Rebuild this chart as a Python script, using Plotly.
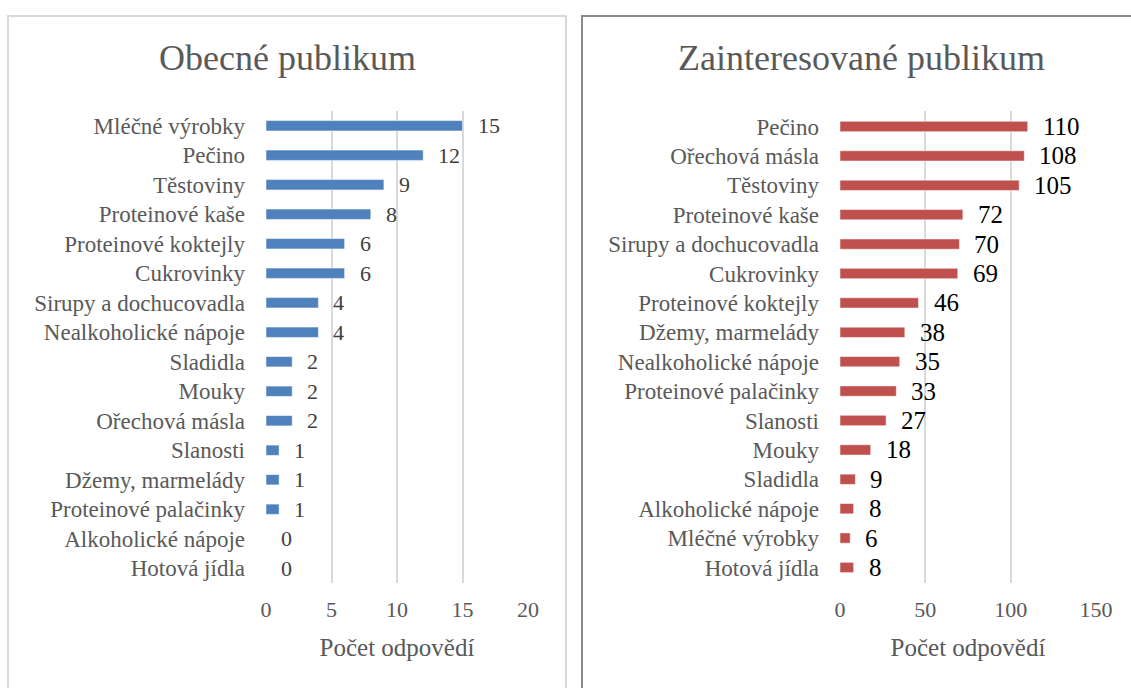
import plotly.graph_objects as go

left_categories = ["Mléčné výrobky", "Pečino", "Těstoviny", "Proteinové kaše",
                   "Proteinové koktejly", "Cukrovinky", "Sirupy a dochucovadla",
                   "Nealkoholické nápoje", "Sladidla", "Mouky", "Ořechová másla",
                   "Slanosti", "Džemy, marmelády", "Proteinové palačinky",
                   "Alkoholické nápoje", "Hotová jídla"]
left_values = [15, 12, 9, 8, 6, 6, 4, 4, 2, 2, 2, 1, 1, 1, 0, 0]

right_categories = ["Pečino", "Ořechová másla", "Těstoviny", "Proteinové kaše",
                    "Sirupy a dochucovadla", "Cukrovinky", "Proteinové koktejly",
                    "Džemy, marmelády", "Nealkoholické nápoje", "Proteinové palačinky",
                    "Slanosti", "Mouky", "Sladidla", "Alkoholické nápoje",
                    "Mléčné výrobky", "Hotová jídla"]
right_values = [110, 108, 105, 72, 70, 69, 46, 38, 35, 33, 27, 18, 9, 8, 6, 8]

left_title = "Obecné publikum"
right_title = "Zainteresované publikum"
x_title = "Počet odpovědí"
left_ticks = [0, 5, 10, 15, 20]
right_ticks = [0, 50, 100, 150]

FONT = "Liberation Serif, Times New Roman, serif"
GRAY = "#595959"
W, H = 1131, 688

fig = go.Figure()
fig.add_trace(go.Bar(x=left_values, y=left_categories, orientation="h",
                     marker=dict(color="#4F81BD", line=dict(color="rgba(255,255,255,0.5)", width=1)),
                     width=0.35, xaxis="x", yaxis="y", hoverinfo="x+y"))
fig.add_trace(go.Bar(x=right_values, y=right_categories, orientation="h",
                     marker=dict(color="#C0504D", line=dict(color="rgba(255,255,255,0.5)", width=1)),
                     width=0.35, xaxis="x2", yaxis="y2", hoverinfo="x+y"))

annotations = []
for c, v in zip(left_categories, left_values):
    annotations.append(dict(x=v, y=c, xref="x", yref="y", text=str(v), showarrow=False,
                            xanchor="left", xshift=13, font=dict(family=FONT, size=22, color="#404040")))
for c, v in zip(right_categories, right_values):
    annotations.append(dict(x=v, y=c, xref="x2", yref="y2", text=str(v), showarrow=False,
                            xanchor="left", xshift=13, font=dict(family=FONT, size=25, color="#000000")))
annotations.append(dict(x=287 / W, y=1 - 58 / H, xref="paper", yref="paper", text=left_title,
                        showarrow=False, xanchor="center", yanchor="middle",
                        font=dict(family=FONT, size=36, color=GRAY)))
annotations.append(dict(x=861 / W, y=1 - 58 / H, xref="paper", yref="paper", text=right_title,
                        showarrow=False, xanchor="center", yanchor="middle",
                        font=dict(family=FONT, size=36, color=GRAY)))

ydom = [1 - 583 / H, 1 - 111 / H]
common_x = dict(showgrid=True, gridcolor="#D9D9D9", gridwidth=2, zeroline=False, showline=False,
                ticks="", ticklabelstandoff=11, tickfont=dict(family=FONT, size=22, color=GRAY),
                fixedrange=True, automargin=False)
common_y = dict(type="category", autorange="reversed", showgrid=False, zeroline=False,
                showline=False, ticks="", ticklabelstandoff=20,
                tickfont=dict(family=FONT, size=23, color=GRAY), fixedrange=True, automargin=False)

fig.update_layout(
    width=W, height=H, margin=dict(l=0, r=0, t=0, b=0, pad=0),
    paper_bgcolor="white", plot_bgcolor="white", showlegend=False,
    xaxis=dict(common_x, domain=[266 / W, 528 / W], range=[0, 20], tickvals=left_ticks,
               anchor="y", title=dict(text=x_title, standoff=17,
                                      font=dict(family=FONT, size=25, color=GRAY))),
    yaxis=dict(common_y, domain=ydom, anchor="x"),
    xaxis2=dict(common_x, domain=[840 / W, 1096 / W], range=[0, 150], tickvals=right_ticks,
                anchor="y2", title=dict(text=x_title, standoff=17,
                                        font=dict(family=FONT, size=25, color=GRAY))),
    yaxis2=dict(common_y, domain=ydom, anchor="x2"),
    annotations=annotations,
    shapes=[
        dict(type="rect", xref="paper", yref="paper", x0=8 / W, x1=566 / W,
             y0=-0.1, y1=1 - 16 / H, line=dict(color="#D9D9D9", width=2)),
        dict(type="rect", xref="paper", yref="paper", x0=582 / W, x1=1.1,
             y0=-0.1, y1=1 - 16 / H, line=dict(color="#8C8C8C", width=2)),
    ],
)

fig.write_html("out.html", config={"displayModeBar": False},
               post_script="document.body.style.margin='0';")
